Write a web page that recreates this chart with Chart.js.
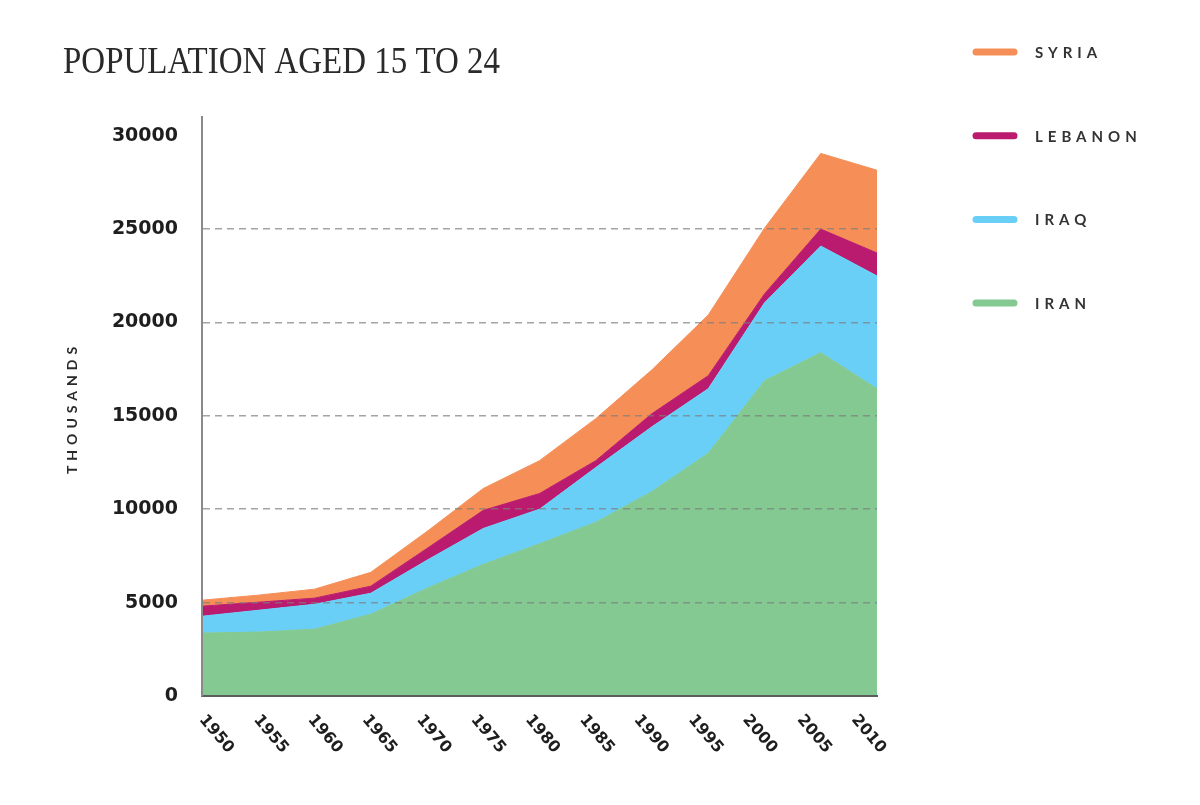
<!DOCTYPE html>
<html>
<head>
<meta charset="utf-8">
<script src="https://cdn.jsdelivr.net/npm/chart.js@4"></script>
<style>
  html, body { margin: 0; padding: 0; background: #fff; }
  #wrap { width: 1200px; height: 805px; }
</style>
</head>
<body>
<div id="wrap"><canvas id="chart" width="1200" height="805"></canvas></div>
<script>
// Data (thousands)
const YEARS = [1950, 1955, 1960, 1965, 1970, 1975, 1980, 1985, 1990, 1995, 2000, 2005, 2010];
const TICK_YEARS = [1950, 1955, 1960, 1965, 1970, 1975, 1980, 1985, 1990, 1995, 2000, 2005, 2010];
const Y_TICKS = [0, 5000, 10000, 15000, 20000, 25000, 30000];
const IRAN    = [3370, 3420, 3580, 4380, 5770, 7050, 8150, 9300, 10950, 13000, 16880, 18380, 16450];
const IRAQ    = [ 900, 1170, 1330, 1120, 1500, 1920, 1850, 2930,  3470,  3450,  4170,  5710,  6040];
const LEBANON = [ 540,  430,  330,  380,  630,  970,  840,  370,   700,   700,   480,   910,  1230];
const SYRIA   = [ 320,  380,  480,  740,  910, 1170, 1760, 2250,  2350,  3250,  3520,  4050,  4430];

const TITLE = 'POPULATION AGED 15 TO 24';
const Y_TITLE = 'THOUSANDS';

const GREEN = '#84c991';
const BLUE = '#6acff6';
const MAGENTA = '#ba1b6f';
const ORANGE = '#f58f57';

// Title, axis title, year labels and legend
const decorPlugin = {
    id: 'decor',
    afterDraw(chart) {
        const ctx = chart.ctx;
        const area = chart.chartArea;

        // title
        ctx.save();
        ctx.fillStyle = '#2a2a2a';
        ctx.font = '38px "Liberation Serif"';
        ctx.textBaseline = 'alphabetic';
        const w = ctx.measureText(TITLE).width;
        ctx.translate(63, 73);
        ctx.scale(437 / w, 1);
        ctx.fillText(TITLE, 0, 0);
        ctx.restore();

        // y axis title
        ctx.save();
        ctx.fillStyle = '#2a2a2a';
        ctx.font = 'bold 14px Lato';
        ctx.letterSpacing = '5px';
        ctx.textAlign = 'center';
        ctx.textBaseline = 'middle';
        ctx.translate(72, 408);
        ctx.rotate(-Math.PI / 2);
        ctx.fillText(Y_TITLE, 0, 0);
        ctx.restore();

        // year labels, turned clockwise
        const xl = chart.scales.xLabels;
        ctx.save();
        ctx.fillStyle = '#1e1e1e';
        ctx.font = 'bold 16px "DejaVu Sans"';
        ctx.textAlign = 'left';
        ctx.textBaseline = 'middle';
        TICK_YEARS.forEach(yr => {
            ctx.save();
            ctx.translate(xl.getPixelForValue(yr), area.bottom + 21);
            ctx.rotate(50 * Math.PI / 180);
            ctx.fillText(String(yr), 0, 0);
            ctx.restore();
        });
        ctx.restore();

        // legend, top series first
        const items = chart.data.datasets.slice().reverse();
        ctx.save();
        ctx.font = 'bold 15px Lato';
        ctx.letterSpacing = '5px';
        ctx.textBaseline = 'middle';
        ctx.lineCap = 'round';
        ctx.lineWidth = 7;
        items.forEach((ds, i) => {
            const y = 52 + i * 83.7;
            ctx.strokeStyle = ds.backgroundColor;
            ctx.beginPath();
            ctx.moveTo(976, y);
            ctx.lineTo(1014, y);
            ctx.stroke();
            ctx.fillStyle = '#333';
            ctx.fillText(ds.label, 1035, y + 1);
        });
        ctx.restore();
    }
};

function area(label, data, color, fill) {
    return {
        label: label,
        data: data,
        xAxisID: 'x',
        backgroundColor: color,
        borderColor: color,
        borderWidth: 1,
        pointRadius: 0,
        tension: 0,
        fill: fill
    };
}

new Chart(document.getElementById('chart'), {
    type: 'line',
    data: {
        labels: YEARS,
        datasets: [
            area('IRAN', IRAN, GREEN, 'origin'),
            area('IRAQ', IRAQ, BLUE, '-1'),
            area('LEBANON', LEBANON, MAGENTA, '-1'),
            area('SYRIA', SYRIA, ORANGE, '-1')
        ]
    },
    options: {
        responsive: false,
        animation: false,
        layout: { padding: { left: 0, right: 323, top: 117, bottom: 109 } },
        plugins: {
            legend: { display: false },
            tooltip: { enabled: false }
        },
        scales: {
            x: {
                type: 'linear',
                min: 1950,
                max: 2010,
                ticks: { display: false },
                grid: { display: false, drawTicks: false },
                border: { display: true, color: '#5c5c5c', width: 2, z: 2 }
            },
            // positions of the year labels (the labels are set a bit tighter than the data)
            xLabels: {
                type: 'linear',
                position: 'bottom',
                min: 1950,
                max: 2012.1,
                display: false
            },
            y: {
                stacked: true,
                min: 0,
                max: 31000,
                afterFit(scale) { scale.width = 202; },
                afterBuildTicks(scale) { scale.ticks = Y_TICKS.map(v => ({ value: v })); },
                ticks: {
                    padding: 24,
                    color: '#1e1e1e',
                    font: { family: 'DejaVu Sans', size: 19, weight: 'bold' },
                    callback: v => String(v)
                },
                grid: {
                    z: 1,
                    drawTicks: false,
                    lineWidth: 1.5,
                    color: c => (c.tick && c.tick.value > 0 && c.tick.value < 30000) ? 'rgba(125,125,125,0.7)' : 'rgba(0,0,0,0)'
                },
                border: { display: true, color: '#8a8a8a', width: 2, dash: [7, 5], z: 2 }
            }
        }
    },
    plugins: [decorPlugin]
});
</script>
</body>
</html>
